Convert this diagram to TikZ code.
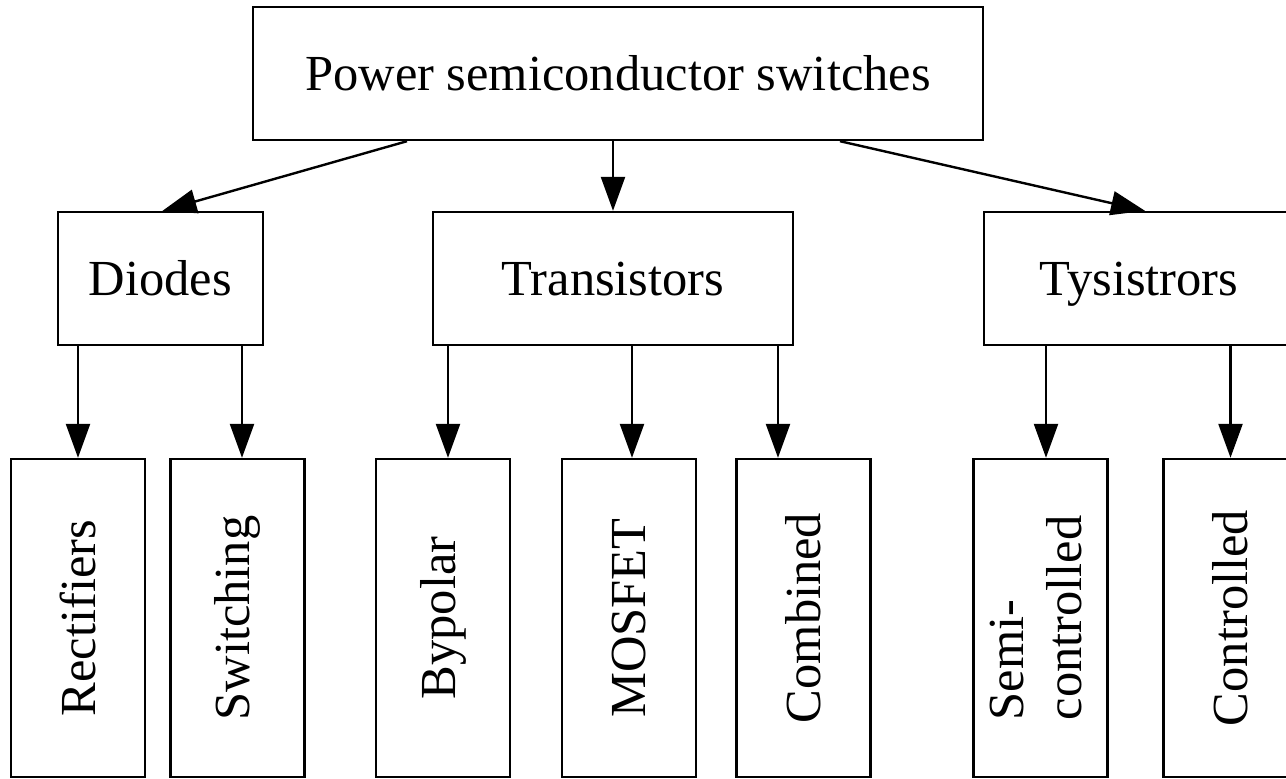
\documentclass[tikz,border=0pt]{standalone}
\usepackage{fontspec}
\setmainfont{Liberation Serif}
\usetikzlibrary{arrows.meta}
\begin{document}
\begin{tikzpicture}[x=1pt,y=-1pt,
  box/.style={draw,line width=2.4pt,rectangle,inner sep=0pt,font=\fontsize{50.5}{58}\selectfont},
  hbox/.style={box,minimum height=133pt,text height=33.4pt,text depth=0pt},
  vbox/.style={box,minimum width=134pt,minimum height=318pt},
  arr/.style={line width=2.4pt,-{Triangle[length=34pt,width=24pt]}}]
\useasboundingbox (0,0) rectangle (1286,779);
\node[hbox,minimum width=730pt] (top) at (618,73.5) {Power semiconductor switches};
\node[hbox,minimum width=205pt] (dio) at (160.5,278.5) {Diodes};
\node[hbox,minimum width=360pt] (tra) at (613,278.5) {Transistors};
\node[hbox,minimum width=310pt] (tys) at (1139,278.5) {Tysistrors};
\node[vbox] (rec) at (78,618) {\rotatebox{90}{Rectifiers}};
\node[vbox] (sw) at (237.5,618) {\rotatebox{90}{Switching}};
\node[vbox] (byp) at (443,618) {\rotatebox{90}{Bypolar}};
\node[vbox] (mos) at (629,618) {\rotatebox{90}{MOSFET}};
\node[vbox] (com) at (803.5,618) {\rotatebox{90}{Combined}};
\node[vbox] (semi) at (1040.5,618) {\rotatebox{90}{\begin{tabular}{@{}l@{}}Semi-\\controlled\end{tabular}}};
\node[vbox] (con) at (1230.5,618) {\rotatebox{90}{Controlled}};
\draw[arr] ([xshift=-211pt]top.south) -- ([xshift=2pt]dio.north);
\draw[arr] ([xshift=-5pt]top.south) -- (tra.north);
\draw[arr] ([xshift=222pt]top.south) -- ([xshift=6pt]tys.north);
\draw[arr] (rec.north |- dio.south) -- (rec.north);
\draw[arr] ([xshift=4.5pt]sw.north |- dio.south) -- ([xshift=4.5pt]sw.north);
\draw[arr] ([xshift=5pt]byp.north |- tra.south) -- ([xshift=5pt]byp.north);
\draw[arr] ([xshift=3pt]mos.north |- tra.south) -- ([xshift=3pt]mos.north);
\draw[arr] ([xshift=-25.5pt]com.north |- tra.south) -- ([xshift=-25.5pt]com.north);
\draw[arr] ([xshift=5.5pt]semi.north |- tys.south) -- ([xshift=5.5pt]semi.north);
\draw[arr] (con.north |- tys.south) -- (con.north);
\end{tikzpicture}
\end{document}
